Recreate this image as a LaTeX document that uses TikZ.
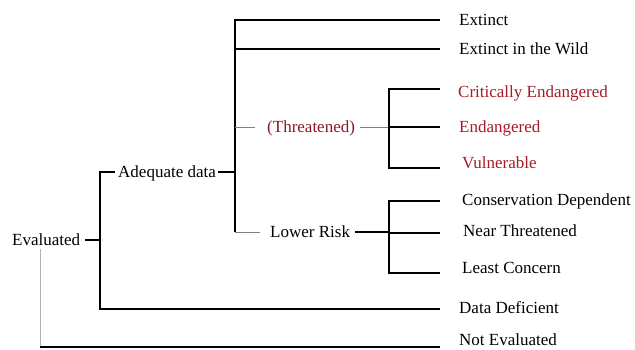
\documentclass[tikz,border=0pt]{standalone}
\usepackage{fontspec}
\setmainfont{Liberation Serif}
\definecolor{thrred}{RGB}{140,22,38}
\definecolor{catred}{RGB}{165,26,38}

\begin{document}
\begin{tikzpicture}[x=1pt,y=1pt]
\tikzstyle{every node}+=[inner sep=0pt, anchor=west, text height=11.3pt, text depth=0pt, font=\fontsize{17}{20}\selectfont]
\tikzstyle{br}=[black, line width=1.2pt]
\tikzstyle{tw}=[gray, line width=0.9pt]
\useasboundingbox (0,0) rectangle (635,-349);
% bus lines and line ends
\coordinate (b0) at (40,0);
\coordinate (b1) at (100,0);
\coordinate (b2) at (235,0);
\coordinate (b3) at (389,0);
\coordinate (exE) at (440,-20);
\coordinate (ewE) at (440,-49);
\coordinate (crE) at (440,-89);
\coordinate (enE) at (440,-127);
\coordinate (vuE) at (440,-168);
\coordinate (cdE) at (440,-201);
\coordinate (ntE) at (440,-233);
\coordinate (lcE) at (440,-273);
\coordinate (ddE) at (440,-309);
\coordinate (neE) at (440,-347);
% inner labels
\node (ev) at (12,-240) {Evaluated};
\node (adq) at (118,-172) {Adequate data};
\node[text=thrred] (thr) at (267,-127) {(Threatened)};
\node (lr) at (270,-232) {Lower Risk};
% leaves
\node (ex) at (459,-20) {Extinct};
\node (ew) at (459,-49) {Extinct in the Wild};
\node[text=catred] (cr) at (458,-92) {Critically Endangered};
\node[text=catred] (en) at (459,-127) {Endangered};
\node[text=catred] (vu) at (462,-163) {Vulnerable};
\node (cd) at (462,-200) {Conservation Dependent};
\node (nt) at (463,-231) {Near Threatened};
\node (lc) at (462,-268) {Least Concern};
\node (dd) at (459,-308) {Data Deficient};
\node (ne) at (459,-340) {Not Evaluated};
% evaluated
\draw[br] ([xshift=5pt]ev.east) -- (ev.east -| b1);
\draw[gray!60, line width=0.9pt] ([yshift=-3pt]ev.south -| b0) -- (b0 |- neE);
\draw[br] (b0 |- neE) -- (neE);
% adequate data
\draw[br] ([xshift=-3pt]adq.west) -- (adq.west -| b1) |- (ddE);
\draw[br] ([xshift=2pt]adq.east) -- (adq.east -| b2);
\draw[br] (exE) -| (lr.west -| b2);
\draw[br] (b2 |- ewE) -- (ewE);
% threatened
\draw[tw] (b2 |- thr.west) -- ([xshift=-12pt]thr.west);
\draw[tw] ([xshift=5pt]thr.east) -- (thr.east -| b3);
\draw[br] (crE) -| (b3 |- vuE) -- (vuE);
\draw[br] (b3 |- enE) -- (enE);
% lower risk
\draw[tw] (b2 |- lr.west) -- ([xshift=-10pt]lr.west);
\draw[br] ([xshift=5pt]lr.east) -- (lr.east -| b3);
\draw[br] (cdE) -| (b3 |- lcE) -- (lcE);
\draw[br] (b3 |- ntE) -- (ntE);
\end{tikzpicture}
\end{document}
